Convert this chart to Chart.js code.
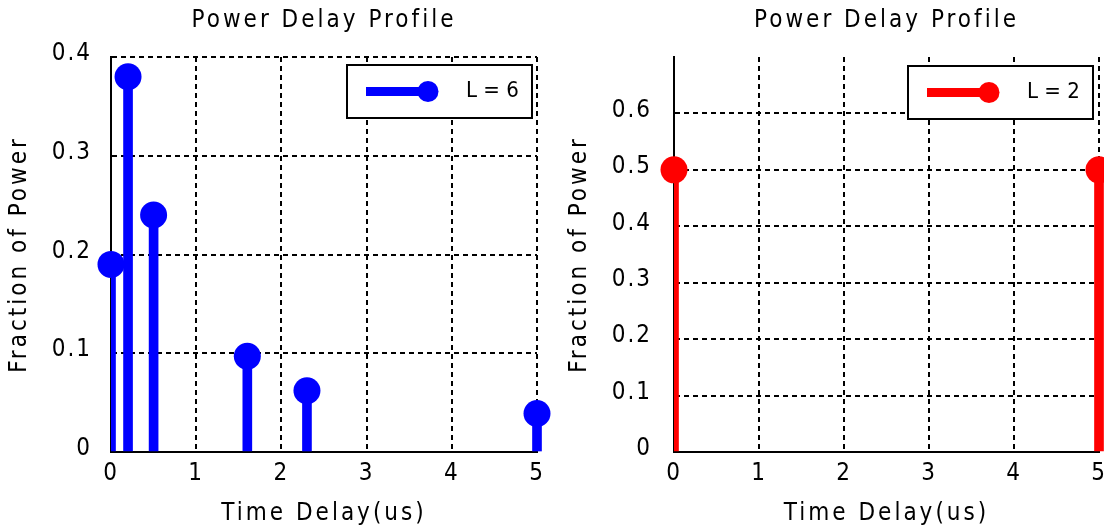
<!DOCTYPE html>
<html>
<head>
<meta charset="utf-8">
<script src="https://cdn.jsdelivr.net/npm/chart.js@4/dist/chart.umd.min.js"></script>
<style>
    body { margin: 0; background: #fff; }
    .plot { position: absolute; top: 0; width: 552px; height: 531px; }
</style>
</head>
<body>
<div class="plot" style="left: 0;"><canvas id="pdp-left" width="552" height="531"></canvas></div>
<div class="plot" style="left: 552px;"><canvas id="pdp-right" width="552" height="531"></canvas></div>
<script>
const chartTitle = 'Power Delay Profile';
const xAxisTitle = 'Time Delay(us)';
const yAxisTitle = 'Fraction of Power';
const xTicks = ['0', '1', '2', '3', '4', '5'];

// 6-tap profile (left)
const delays6 = [0, 0.2, 0.5, 1.6, 2.3, 5.0];
const powers6 = [0.19, 0.38, 0.24, 0.097, 0.062, 0.039];
const yTicks6 = ['0', '0.1', '0.2', '0.3', '0.4'];

// 2-tap profile (right)
const delays2 = [0, 5];
const powers2 = [0.5, 0.5];
const yTicks2 = ['0', '0.1', '0.2', '0.3', '0.4', '0.5', '0.6'];

const FONT = '"Liberation Sans Narrow", "DejaVu Sans Condensed", "Liberation Sans", sans-serif';
const FSIZE = 24;

// wide letter spacing for titles, tighter for tick labels (ticks are drawn after datasets, z: 1)
const spacedText = {
    id: 'spacedText',
    beforeUpdate(chart) { chart.ctx.letterSpacing = '3px'; },
    beforeDraw(chart) { chart.ctx.letterSpacing = '3px'; },
    afterDatasetsDraw(chart) { chart.ctx.letterSpacing = '2px'; }
};

// boxed legend with a horizontal stem symbol
const stemLegend = {
    id: 'stemLegend',
    afterDraw(chart, args, opts) {
        const { ctx, chartArea } = chart;
        const ds = chart.data.datasets[0];
        const w = 185, h = 53;
        const left = chartArea.right - opts.marginRight - w;
        const top = chartArea.top + opts.marginTop;
        const cy = top + h / 2;
        ctx.save();
        ctx.fillStyle = '#fff';
        ctx.fillRect(left, top, w, h);
        ctx.lineWidth = 2;
        ctx.strokeStyle = '#000';
        ctx.strokeRect(left, top, w, h);
        ctx.fillStyle = ds.backgroundColor;
        ctx.fillRect(left + 19, cy - 4.5, 62, 9);
        ctx.beginPath();
        ctx.arc(left + 81, cy, 10.5, 0, Math.PI * 2);
        ctx.fill();
        ctx.letterSpacing = '0px';
        ctx.font = `22px ${FONT}`;
        ctx.fillStyle = '#000';
        ctx.textAlign = 'left';
        ctx.textBaseline = 'middle';
        ctx.fillText(ds.label, left + 119, cy);
        ctx.restore();
    }
};

function makeStemChart(id, delays, powers, yTicks, color, label, cfg) {
    const pts = delays.map((d, i) => ({ x: d, y: powers[i] }));
    return new Chart(document.getElementById(id), {
        type: 'bar',
        data: {
            datasets: [
                {
                    label: label,
                    data: pts,
                    backgroundColor: color,
                    barThickness: 9,
                    borderWidth: 0,
                    clip: { left: 0, top: false, right: false, bottom: 0 },
                    order: 2
                },
                {
                    type: 'scatter',
                    label: label,
                    data: pts,
                    backgroundColor: color,
                    pointBackgroundColor: color,
                    pointBorderWidth: 0,
                    pointRadius: 13.5,
                    pointHoverRadius: 13.5,
                    clip: false,
                    order: 1
                }
            ]
        },
        options: {
            responsive: false,
            animation: false,
            devicePixelRatio: 1,
            layout: { autoPadding: false, padding: { left: 0, right: cfg.padRight, top: 0, bottom: 0 } },
            plugins: {
                legend: { display: false },
                tooltip: { enabled: false },
                title: {
                    display: true,
                    text: chartTitle,
                    fullSize: false,
                    color: '#000',
                    font: { family: FONT, size: FSIZE, weight: 'normal', lineHeight: 1.2 },
                    padding: { top: 6, bottom: 57 - 6 - FSIZE * 1.2 }
                },
                stemLegend: { marginRight: cfg.legendRight, marginTop: cfg.legendTop }
            },
            scales: {
                x: {
                    type: 'linear',
                    min: 0,
                    max: 5,
                    offset: false,
                    afterFit: (s) => { s.height = 79; s.paddingLeft = 0; s.paddingRight = 0; },
                    ticks: {
                        stepSize: 1,
                        padding: 7,
                        z: 1,
                        color: '#000',
                        font: { family: FONT, size: FSIZE },
                        callback: (v, i) => xTicks[i] ?? ''
                    },
                    grid: {
                        offset: false,
                        color: '#000',
                        lineWidth: 2,
                        drawTicks: false
                    },
                    border: { display: true, color: '#000', width: 2, dash: [5, 4] },
                    title: {
                        display: true,
                        text: xAxisTitle,
                        color: '#000',
                        font: { family: FONT, size: FSIZE, lineHeight: 1.2 },
                        padding: { top: 0, bottom: 3 }
                    }
                },
                y: {
                    min: 0,
                    max: cfg.yMax,
                    afterFit: (s) => { s.width = cfg.yAxisWidth; s.paddingTop = 0; s.paddingBottom = 0; },
                    ticks: {
                        stepSize: 0.1,
                        padding: cfg.yTickPad,
                        labelOffset: -3,
                        z: 1,
                        color: '#000',
                        font: { family: FONT, size: FSIZE },
                        callback: (v, i) => yTicks[i] ?? ''
                    },
                    grid: {
                        color: (c) => c.index < yTicks.length ? '#000' : 'rgba(0,0,0,0)',
                        lineWidth: 2,
                        drawTicks: false
                    },
                    border: { display: true, color: '#000', width: 2, dash: [5, 4] },
                    title: {
                        display: true,
                        text: yAxisTitle,
                        color: '#000',
                        font: { family: FONT, size: FSIZE, lineHeight: 1.2 },
                        padding: { top: cfg.yTitlePad, bottom: 0 }
                    }
                }
            }
        },
        plugins: [spacedText, stemLegend]
    });
}

makeStemChart('pdp-left', delays6, powers6, yTicks6, '#0000ff', 'L = 6', {
    padRight: 15, yAxisWidth: 111, yMax: 0.4, yTickPad: 19, yTitlePad: 5,
    legendRight: 5, legendTop: 8
});

makeStemChart('pdp-right', delays2, powers2, yTicks2, '#ff0000', 'L = 2', {
    padRight: 5, yAxisWidth: 122, yMax: 0.7, yTickPad: 22, yTitlePad: 13,
    legendRight: 6, legendTop: 9
});
</script>
</body>
</html>
